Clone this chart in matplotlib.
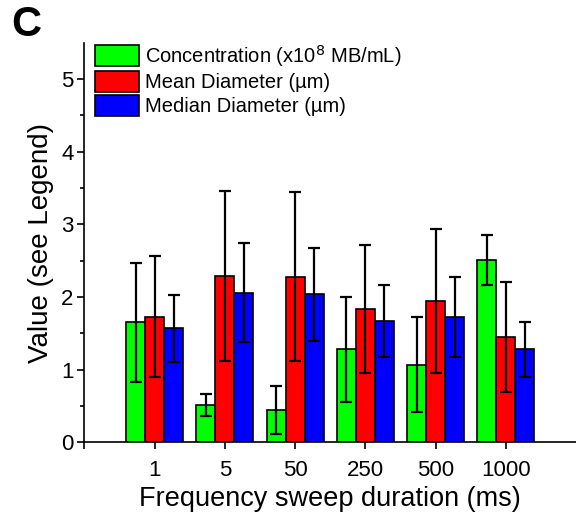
import matplotlib
matplotlib.use("Agg")
import matplotlib.pyplot as plt
import numpy as np

plt.rcParams["font.family"] = ["Liberation Sans", "DejaVu Sans"]

durations = ["1", "5", "50", "250", "500", "1000"]
series_names = ["Concentration (x10$^{8}$ MB/mL)", "Mean Diameter (µm)", "Median Diameter (µm)"]
colors = ["#00ff00", "#ff0000", "#0000ff"]

concentration = [1.65, 0.51, 0.45, 1.28, 1.07, 2.51]
concentration_err = [0.82, 0.15, 0.33, 0.72, 0.65, 0.35]
mean_diam = [1.73, 2.29, 2.28, 1.83, 1.94, 1.45]
mean_diam_err = [0.83, 1.17, 1.16, 0.88, 0.99, 0.76]
median_diam = [1.57, 2.06, 2.04, 1.67, 1.73, 1.28]
median_diam_err = [0.46, 0.68, 0.64, 0.49, 0.55, 0.38]

values = [concentration, mean_diam, median_diam]
errors = [concentration_err, mean_diam_err, median_diam_err]

fig = plt.figure(figsize=(5.76, 5.21), dpi=100)
ax = fig.add_axes([0.1467, 0.151, 0.8533, 0.767])

x = np.arange(1, len(durations) + 1)
w = 0.27
for i, (v, e, c, n) in enumerate(zip(values, errors, colors, series_names)):
    ax.bar(x + (i - 1) * w, v, w, color=c, edgecolor="black", linewidth=1.2, label=n, zorder=2)
    ax.errorbar(x + (i - 1) * w, v, yerr=e, fmt="none", ecolor="black",
                elinewidth=1.6, capsize=4.5, capthick=1.6, zorder=3)

ax.set_xlim(0, 7)
ax.set_ylim(0, 5.5)
ax.set_xticks([0] + list(x))
ax.set_xticklabels([""] + durations)
ax.set_yticks(range(6))
ax.set_yticks(np.arange(0.5, 5.5, 1.0), minor=True)
ax.spines["top"].set_visible(False)
ax.spines["right"].set_visible(False)
ax.spines["left"].set_linewidth(1.2)
ax.spines["bottom"].set_linewidth(1.2)
ax.tick_params(axis="both", which="major", direction="out", length=5, width=1.2,
               labelsize=16, pad=3)
ax.tick_params(axis="y", which="minor", direction="out", length=3, width=1.2)
ax.tick_params(axis="x", pad=8)

ax.set_xlabel("Frequency sweep duration (ms)", fontsize=19.5, labelpad=3)
ax.set_ylabel("Value (see Legend)", fontsize=20, labelpad=5)

ax.legend(loc="upper left", bbox_to_anchor=(0.021, 1.0), frameon=False,
          fontsize=14.5, handlelength=2.2, handleheight=1.25, labelspacing=0.12,
          handletextpad=0.3, borderpad=0, borderaxespad=0)

fig.text(0.02, 0.952, "C", fontsize=30, fontweight="bold", ha="left", va="center")

fig.savefig("out.png", dpi=100)
